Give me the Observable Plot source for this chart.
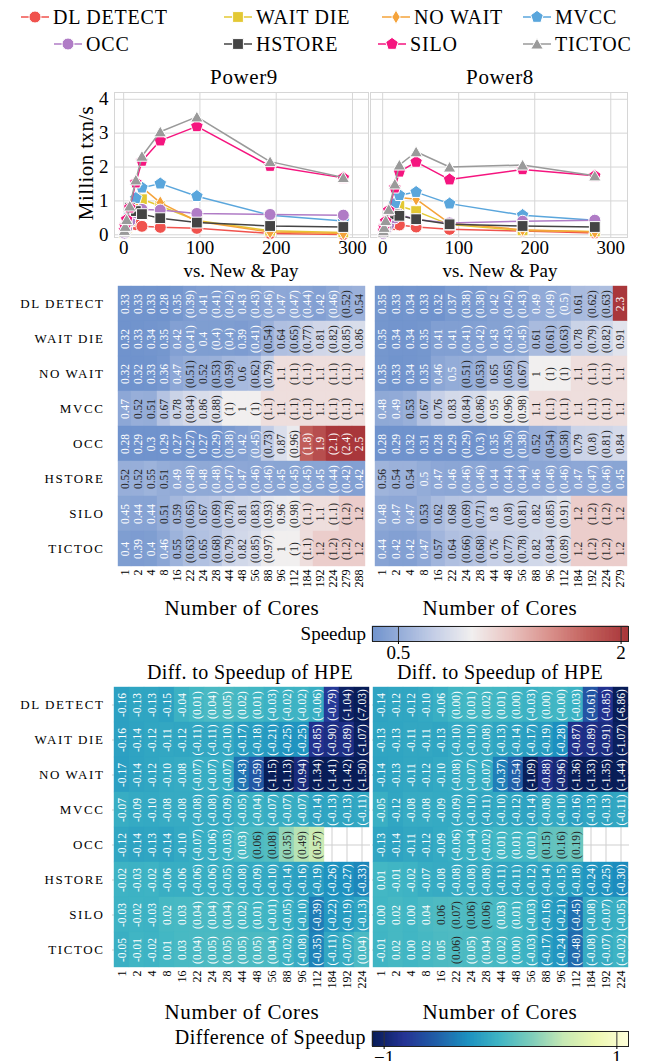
<!DOCTYPE html>
<html><head><meta charset="utf-8">
<script src="https://cdn.jsdelivr.net/npm/d3@7"></script>
<script src="https://cdn.jsdelivr.net/npm/@observablehq/plot@0.6"></script>
<style>
body{margin:0;background:#fff;}
#root{position:relative;width:646px;height:1061px;overflow:hidden;font-family:"Liberation Serif",serif;color:#000;}
#root svg{position:absolute;left:0;}
.lbl{position:absolute;white-space:nowrap;line-height:1;font-family:"Liberation Serif",serif;}
</style></head><body><div id="root"></div>
<script>
// ---------- data ----------
const protocols = ["DL DETECT","WAIT DIE","NO WAIT","MVCC","OCC","HSTORE","SILO","TICTOC"];
const seriesColors = ["#f0524d","#e3c833","#f5a33a","#5aa6dc","#b07cc6","#444444","#f5157f","#9a9a9a"];
const seriesMarkers = ["circle","square","thin_diamond","pentagon","circle","square","pentagon","triangle"];

const p9Cores = [1,2,4,8,16,24,48,96,192,288];
const p9Tput = [
  [0.06,0.11,0.19,0.28,0.30,0.25,0.22,0.19,0.04,0.01],
  [0.06,0.11,0.20,0.40,0.95,1.05,0.85,0.42,0.12,0.07],
  [0.06,0.11,0.20,0.40,0.90,1.40,0.95,0.40,0.08,0.04],
  [0.08,0.15,0.30,0.60,1.08,1.39,1.51,1.14,0.58,0.41],
  [0.05,0.10,0.20,0.40,0.65,0.75,0.73,0.63,0.60,0.58],
  [0.10,0.20,0.40,0.80,0.70,0.61,0.49,0.36,0.26,0.23],
  [0.13,0.25,0.45,0.80,1.54,2.18,2.78,3.20,2.03,1.68],
  [0.13,0.25,0.45,0.85,1.62,2.32,3.04,3.48,2.16,1.69]
];
const p8Cores = [1,2,4,8,16,22,44,88,184,279];
const p8Tput = [
  [0.05,0.10,0.17,0.25,0.30,0.29,0.23,0.16,0.11,0.05],
  [0.05,0.10,0.20,0.38,0.70,0.85,0.70,0.30,0.13,0.10],
  [0.05,0.10,0.20,0.38,0.75,1.10,1.05,0.34,0.15,0.08],
  [0.07,0.13,0.26,0.50,0.92,1.17,1.26,0.92,0.58,0.43],
  [0.04,0.08,0.16,0.30,0.50,0.60,0.45,0.35,0.40,0.43],
  [0.09,0.17,0.33,0.60,0.60,0.56,0.46,0.31,0.26,0.23],
  [0.12,0.22,0.40,0.72,1.39,1.86,2.15,1.63,1.93,1.74],
  [0.12,0.22,0.42,0.75,1.50,2.06,2.45,2.00,2.06,1.74]
];

const spP9Cols = [1,2,4,8,16,22,24,28,44,48,56,88,96,112,184,192,224,279,288];
const spP9Measured = [1,2,4,8,16,24,48,96,192,288];
const spP9 = [
  [0.33,0.33,0.33,0.28,0.35,0.39,0.41,0.41,0.42,0.43,0.43,0.46,0.47,0.47,0.44,0.42,0.46,0.52,0.54],
  [0.32,0.33,0.34,0.35,0.42,0.41,0.4,0.4,0.4,0.39,0.41,0.54,0.64,0.65,0.77,0.81,0.82,0.85,0.86],
  [0.32,0.32,0.33,0.36,0.47,0.51,0.52,0.53,0.59,0.6,0.62,0.79,1.1,1.1,1.1,1.1,1.1,1.1,1.1],
  [0.47,0.52,0.51,0.67,0.78,0.84,0.86,0.88,1,1,1,1.1,1.1,1.1,1.1,1.1,1.1,1.1,1.1],
  [0.28,0.29,0.3,0.29,0.27,0.27,0.27,0.29,0.38,0.42,0.45,0.73,0.87,0.96,1.8,1.9,2.1,2.4,2.5],
  [0.52,0.52,0.55,0.51,0.49,0.48,0.48,0.48,0.47,0.47,0.46,0.46,0.45,0.45,0.45,0.45,0.44,0.42,0.42],
  [0.45,0.44,0.44,0.51,0.59,0.65,0.67,0.69,0.78,0.81,0.83,0.93,0.96,0.98,1.1,1.1,1.1,1.2,1.2],
  [0.4,0.39,0.4,0.46,0.55,0.63,0.65,0.68,0.79,0.82,0.85,0.97,1,1,1.1,1.2,1.2,1.2,1.2]
];
const spP8Cols = [1,2,4,8,16,22,24,28,44,48,56,88,96,112,184,192,224,279];
const spP8Measured = [1,2,4,8,16,22,44,88,184,279];
const spP8 = [
  [0.35,0.33,0.34,0.33,0.32,0.37,0.38,0.38,0.42,0.42,0.43,0.49,0.49,0.5,0.61,0.62,0.63,2.3],
  [0.35,0.34,0.34,0.35,0.41,0.41,0.41,0.42,0.43,0.43,0.45,0.61,0.61,0.63,0.78,0.79,0.82,0.91],
  [0.35,0.33,0.34,0.35,0.46,0.5,0.51,0.53,0.65,0.65,0.67,1,1,1,1.1,1.1,1.1,1.1],
  [0.48,0.49,0.53,0.67,0.76,0.83,0.84,0.86,0.95,0.96,0.98,1.1,1.1,1.1,1.1,1.1,1.1,1.1],
  [0.28,0.29,0.32,0.31,0.28,0.29,0.29,0.3,0.35,0.36,0.38,0.52,0.54,0.58,0.79,0.8,0.81,0.84],
  [0.56,0.54,0.54,0.5,0.47,0.46,0.46,0.46,0.44,0.44,0.44,0.46,0.46,0.46,0.47,0.47,0.46,0.45],
  [0.48,0.47,0.47,0.53,0.62,0.68,0.69,0.71,0.8,0.8,0.81,0.82,0.85,0.91,1.2,1.2,1.2,1.2],
  [0.44,0.42,0.42,0.47,0.57,0.64,0.66,0.68,0.76,0.77,0.78,0.82,0.84,0.89,1.2,1.2,1.2,1.2]
];

const diffCols = [1,2,4,8,16,22,24,28,44,48,56,88,96,112,184,192,224];
const diffMeasured = [1,2,4,8,16];
const diffP9 = [
  [-0.16,-0.13,-0.13,-0.15,-0.04,0.01,0.04,0.05,0.02,0.01,-0.03,-0.02,-0.02,-0.06,-0.79,-1.04,-7.03],
  [-0.16,-0.14,-0.12,-0.11,-0.12,-0.11,-0.11,-0.10,-0.17,-0.18,-0.21,-0.25,-0.25,-0.85,-0.90,-0.89,-1.07],
  [-0.17,-0.14,-0.12,-0.10,-0.08,-0.07,-0.07,-0.07,-0.43,-0.59,-1.15,-1.13,-0.94,-1.34,-1.41,-1.42,-1.50],
  [-0.07,-0.09,-0.10,-0.08,-0.08,-0.08,-0.08,-0.09,-0.05,-0.04,-0.07,-0.07,-0.07,-0.14,-0.13,-0.13,-0.11],
  [-0.12,-0.14,-0.13,-0.14,-0.10,-0.07,-0.06,-0.03,0.03,0.06,0.08,0.35,0.49,0.57,null,null,null],
  [-0.02,-0.03,-0.02,-0.06,-0.06,-0.06,-0.06,-0.05,-0.08,-0.09,-0.10,-0.14,-0.16,-0.19,-0.26,-0.27,-0.33],
  [-0.03,-0.02,-0.03,0.02,0.03,0.04,0.04,0.04,0.02,0.01,-0.01,-0.05,-0.10,-0.39,-0.22,-0.19,-0.13],
  [-0.05,-0.01,-0.02,0.01,0.03,0.04,0.05,0.05,0.05,0.05,0.04,-0.02,-0.08,-0.35,-0.11,-0.07,0.04]
];
const diffP8 = [
  [-0.14,-0.12,-0.12,-0.10,-0.06,0.00,0.01,0.02,0.01,0.00,-0.03,0.00,-0.001,-0.03,-0.61,-0.85,-6.86],
  [-0.13,-0.13,-0.11,-0.11,-0.13,-0.10,-0.10,-0.08,-0.13,-0.14,-0.17,-0.19,-0.28,-0.87,-0.89,-0.91,-1.07],
  [-0.14,-0.13,-0.11,-0.12,-0.10,-0.08,-0.07,-0.07,-0.37,-0.54,-1.09,-0.88,-0.96,-1.36,-1.33,-1.35,-1.44],
  [-0.05,-0.12,-0.08,-0.08,-0.09,-0.09,-0.10,-0.11,-0.10,-0.12,-0.14,-0.08,-0.10,-0.16,-0.13,-0.13,-0.11],
  [-0.13,-0.14,-0.11,-0.12,-0.09,-0.06,-0.04,-0.02,0.01,0.01,0.01,0.15,0.16,0.19,null,null,null],
  [0.01,-0.01,-0.02,-0.07,-0.08,-0.08,-0.08,-0.08,-0.11,-0.11,-0.12,-0.14,-0.15,-0.18,-0.24,-0.25,-0.30],
  [0.00,0.02,0.00,0.04,0.06,0.07,0.06,0.06,0.03,0.01,-0.03,-0.16,-0.21,-0.45,-0.08,-0.07,-0.05],
  [-0.01,0.02,0.00,0.02,0.05,0.06,0.05,0.04,0.02,0.00,-0.03,-0.17,-0.24,-0.48,-0.08,-0.07,-0.02]
];

const speedupTicks = [0.5, 2];
const diffTicks = [-1, 1];

// ---------- helpers ----------
const root = document.getElementById("root");
const SERIF = "Liberation Serif";
function place(svg, top) { svg.style.top = top + "px"; root.appendChild(svg); return svg; }
function label(text, x, y, size, anchor = "middle", rotate = 0, spacing = 0) {
  const d = document.createElement("div");
  d.className = "lbl"; d.textContent = text; d.style.fontSize = size + "px";
  if (spacing) d.style.letterSpacing = spacing + "px";
  d.style.left = x + "px"; d.style.top = y + "px";
  const tx = anchor === "middle" ? "-50%" : anchor === "end" ? "-100%" : "0";
  d.style.transform = rotate ? `translate(-50%,-50%) rotate(${rotate}deg)` : `translate(${tx},-50%)`;
  root.appendChild(d);
}
function markerSymbol(kind) {
  return {draw(ctx, size) {
    const r = Math.sqrt(size / Math.PI);
    if (kind === "circle") { ctx.moveTo(r, 0); ctx.arc(0, 0, r, 0, 2 * Math.PI); return; }
    if (kind === "square") { const s = r * 0.9; ctx.moveTo(-s, -s); ctx.lineTo(s, -s); ctx.lineTo(s, s); ctx.lineTo(-s, s); ctx.closePath(); return; }
    if (kind === "thin_diamond") { const h = r * 1.15, w = r * 0.7; ctx.moveTo(0, -h); ctx.lineTo(w, 0); ctx.lineTo(0, h); ctx.lineTo(-w, 0); ctx.closePath(); return; }
    const n = kind === "pentagon" ? 5 : 3, R = kind === "pentagon" ? r * 1.1 : r * 1.2;
    for (let i = 0; i < n; i++) { const a = -Math.PI / 2 + i * 2 * Math.PI / n; const x = R * Math.cos(a), y = R * Math.sin(a) + (n === 3 ? R * 0.2 : 0); i ? ctx.lineTo(x, y) : ctx.moveTo(x, y); }
    ctx.closePath();
  }};
}
const symbolObjs = seriesMarkers.map(markerSymbol);
const baseStyle = {background: "transparent", fontFamily: SERIF, overflow: "visible", color: "#000"};
const numFmt = d3.format("~g");

// ---------- legend ----------
const legendPos = [[35,17],[238,17],[396,17],[537,17],[68,44],[238,44],[392,44],[537,44]];
protocols.forEach((p, i) => {
  const [mx, my] = legendPos[i];
  const svg = d3.create("svg").attr("width", 34).attr("height", 20)
    .style("left", (mx - 17) + "px").style("top", (my - 10) + "px").style("position", "absolute");
  svg.append("line").attr("x1", 3).attr("x2", 31).attr("y1", 10).attr("y2", 10).attr("stroke", seriesColors[i]).attr("stroke-width", 1.5);
  const path = d3.path(); symbolObjs[i].draw(path, 36 * Math.PI);
  svg.append("path").attr("d", path.toString()).attr("transform", "translate(17,10)").attr("fill", seriesColors[i]).attr("stroke", "#fff").attr("stroke-width", 1);
  root.appendChild(svg.node());
  label(p, mx + 18, my, 20, "start", 0, 0.8);
});

// ---------- line charts ----------
function linePlot(cores, tput, o) {
  const rows = [];
  protocols.forEach((p, i) => cores.forEach((c, j) => rows.push({p, i, c, v: tput[i][j]})));
  const marks = [
    Plot.gridX({ticks: [0,100,200,300], stroke: "#d6d6d6", strokeOpacity: 1}),
    Plot.gridY({ticks: [0,1,2,3,4], stroke: "#d6d6d6", strokeOpacity: 1}),
    Plot.frame({stroke: "#d6d6d6"})
  ];
  protocols.forEach((p, i) => {
    const d = rows.filter(r => r.i === i);
    marks.push(Plot.line(d, {x: "c", y: "v", stroke: seriesColors[i], strokeWidth: 1.5}));
    marks.push(Plot.dot(d, {x: "c", y: "v", symbol: symbolObjs[i], r: 6, fill: seriesColors[i], stroke: "#fff", strokeWidth: 1}));
  });
  marks.push(Plot.axisX({ticks: [0,100,200,300], tickFormat: numFmt, tickSize: 0, tickPadding: 3, label: null, fontSize: 19}));
  if (o.showY) marks.push(Plot.axisY({ticks: [0,1,2,3,4], tickFormat: numFmt, tickSize: 0, tickPadding: 6, label: null, fontSize: 19}));
  return Plot.plot({
    width: o.width, height: 200, marginLeft: o.ml, marginRight: 2, marginTop: 32, marginBottom: 23,
    x: {domain: o.xdom, axis: null}, y: {domain: [-0.08, 4.2], axis: null},
    style: {...baseStyle, fontSize: "19px"}, marks
  });
}
place(linePlot(p9Cores, p9Tput, {width: 370, ml: 114, xdom: [-12, 321], showY: true}), 60);
place(linePlot(p8Cores, p8Tput, {width: 629, ml: 370, xdom: [-16, 322], showY: false}), 60);
label("Power9", 244, 77, 21, "middle", 0, 0.6);
label("Power8", 500, 77, 21, "middle", 0, 0.6);
label("Million txn/s", 86, 163, 21, "middle", -90, 0.4);

// ---------- colour scales ----------
const vlag = d3.piecewise(d3.interpolateRgb, ["#2369bd","#5a84c6","#8ea8d6","#c3cde6","#f1efef","#e9c3c0","#d9918c","#c2605c","#a9373b"]);
const spMin = 0.325, spMax = 2.05, spCenter = 1;
const vr = Math.max(spMax - spCenter, spCenter - spMin);
const cLo = (spMin - (spCenter - vr)) / (2 * vr), cHi = (spMax - (spCenter - vr)) / (2 * vr);
const spInterp = t => vlag(cLo + t * (cHi - cLo));
const spColor = {type: "linear", domain: [spMin, spMax], interpolate: spInterp, clamp: true};
const spScale = d3.scaleLinear().domain([spMin, spMax]).clamp(true);

const ylgnbu = d3.piecewise(d3.interpolateRgb, ["#ffffd9","#edf8b1","#c7e9b4","#7fcdbb","#41b6c4","#1d91c0","#225ea8","#253494","#081d58"]);
const dfMin = -1.1, dfMax = 1.1;
const dfInterp = t => ylgnbu(1 - t);
const dfColor = {type: "linear", domain: [dfMin, dfMax], interpolate: dfInterp, clamp: true};
const dfScale = d3.scaleLinear().domain([dfMin, dfMax]).clamp(true);

function relLum(c) {
  const {r, g, b} = d3.rgb(c);
  const f = x => { x /= 255; return x <= 0.03928 ? x / 12.92 : Math.pow((x + 0.055) / 1.055, 2.4); };
  return 0.2126 * f(r) + 0.7152 * f(g) + 0.0722 * f(b);
}
const textOn = c => relLum(c) > 0.408 ? "#262626" : "#ffffff";

// ---------- heatmaps ----------
function heatmap(cols, vals, o) {
  const data = [];
  protocols.forEach((p, i) => cols.forEach((c, j) => {
    const v = vals[i][j];
    if (v == null) return;
    const s = o.fmt(v);
    data.push({p, c: String(c), v, label: o.paren(c) ? `(${s})` : s, tc: textOn(o.interp(o.scale(v)))});
  }));
  const marks = [];
  if (o.grid) {
    marks.push(Plot.gridX({stroke: "#cfcfcf", strokeOpacity: 1}));
    marks.push(Plot.gridY({stroke: "#cfcfcf", strokeOpacity: 1}));
  }
  marks.push(Plot.cell(data, {x: "c", y: "p", fill: "v", stroke: "v", strokeWidth: 0.4, inset: 0}));
  marks.push(Plot.text(data, {x: "c", y: "p", text: "label", rotate: -90, fill: "tc", fontSize: 11.5, fontFamily: SERIF}));
  marks.push(Plot.axisX({tickRotate: -90, tickSize: 0, tickPadding: 3, label: null, fontSize: 12}));
  if (o.showY) marks.push(Plot.axisY({tickSize: 0, tickPadding: 8, label: null, fontSize: 13}));
  return Plot.plot({
    width: o.right + 2, height: 330, marginLeft: o.left, marginRight: 2, marginTop: 5, marginBottom: 330 - 5 - o.h,
    x: {domain: cols.map(String), padding: 0, axis: null},
    y: {domain: protocols, padding: 0, axis: null},
    color: o.color,
    style: {...baseStyle, fontSize: "12px"}, marks
  });
}
const spFmt = d3.format(".2~g");
const dfFmt = v => v.toFixed(2);
const isParenP9 = c => !spP9Measured.includes(c);
const isParenP8 = c => !spP8Measured.includes(c);
const isParenDf = c => !diffMeasured.includes(c);

function styleRowLabels(svg) {
  d3.select(svg).selectAll('g[aria-label="y-axis tick label"] text')
    .style("letter-spacing", "1.6px").style("font-size", "13px");
  return svg;
}

place(styleRowLabels(heatmap(spP9Cols, spP9, {left: 112, right: 370, h: 281, fmt: spFmt, paren: isParenP9, color: spColor, interp: spInterp, scale: spScale, showY: true})), 280);
place(heatmap(spP8Cols, spP8, {left: 372, right: 629, h: 281, fmt: spFmt, paren: isParenP8, color: spColor, interp: spInterp, scale: spScale, showY: false}), 280);
label("vs. New & Pay", 241, 270, 19);
label("vs. New & Pay", 500, 270, 19);
label("Number of Cores", 242, 608, 21, "middle", 0, 0.6);
label("Number of Cores", 500, 608, 21, "middle", 0, 0.6);

place(styleRowLabels(heatmap(diffCols, diffP9, {left: 112, right: 370, h: 280, fmt: dfFmt, paren: isParenDf, color: dfColor, interp: dfInterp, scale: dfScale, showY: true, grid: true})), 682);
place(heatmap(diffCols, diffP8, {left: 372, right: 629, h: 280, fmt: dfFmt, paren: isParenDf, color: dfColor, interp: dfInterp, scale: dfScale, showY: false, grid: true}), 682);
label("Diff. to Speedup of HPE", 250, 672, 20, "middle", 0, 0.4);
label("Diff. to Speedup of HPE", 500, 672, 20, "middle", 0, 0.4);
label("Number of Cores", 242, 1012, 21, "middle", 0, 0.6);
label("Number of Cores", 500, 1012, 21, "middle", 0, 0.6);

// ---------- colour bars ----------
function colorBar(color, dom, ticks) {
  const n = 256;
  const steps = d3.range(n).map(i => ({a: dom[0] + (dom[1] - dom[0]) * i / n, b: dom[0] + (dom[1] - dom[0]) * (i + 1) / n}));
  steps.forEach(s => s.m = (s.a + s.b) / 2);
  return Plot.plot({
    width: 631, height: 44, marginLeft: 372, marginRight: 3, marginTop: 6, marginBottom: 23,
    x: {domain: dom, axis: null}, color,
    style: {...baseStyle, fontSize: "19px"},
    marks: [
      Plot.rectX(steps, {x1: "a", x2: "b", fill: "m", stroke: "m", strokeWidth: 0.5}),
      Plot.tickX(ticks, {x: d => d, stroke: "#333", strokeWidth: 1}),
      Plot.frame({stroke: "#222", strokeWidth: 1}),
      Plot.axisX({ticks, tickFormat: numFmt, tickSize: 3, tickPadding: 1, label: null, fontSize: 19})
    ]
  });
}
place(colorBar(spColor, [spMin, spMax], speedupTicks), 620);
label("Speedup", 366, 633, 19, "end");
place(colorBar(dfColor, [dfMin, dfMax], diffTicks), 1025);
label("Difference of Speedup", 366, 1037, 20, "end", 0, 0.5);
</script></body></html>
